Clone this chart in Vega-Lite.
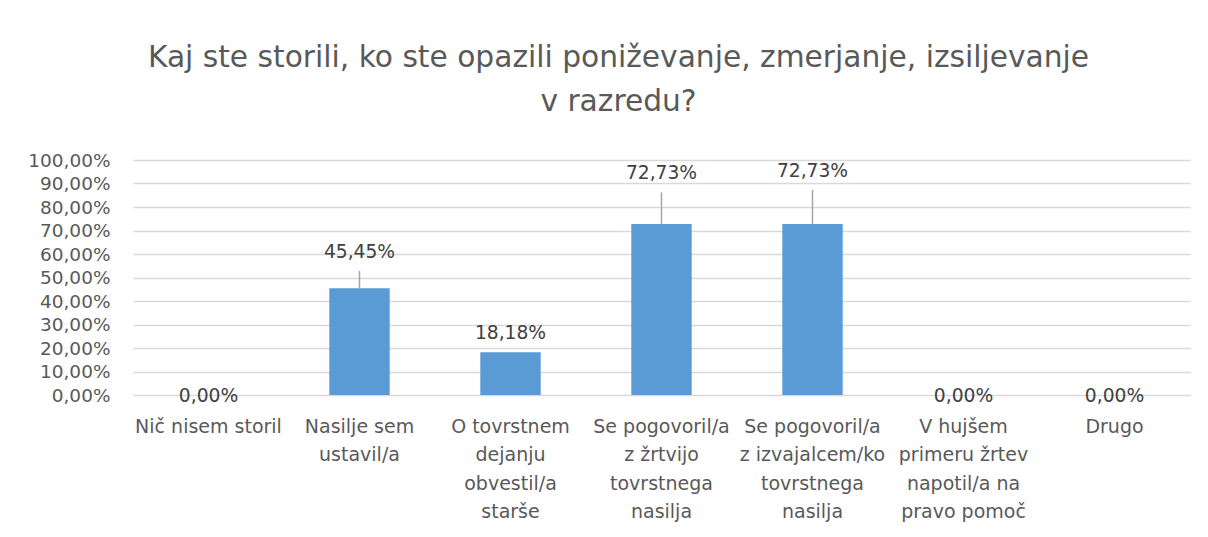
{
  "$schema": "https://vega.github.io/schema/vega-lite/v6.json",
  "width": 1057,
  "height": 235,
  "autosize": {"type": "none"},
  "padding": {"left": 133, "top": 160, "right": 18, "bottom": 142},
  "background": "white",
  "title": {
    "text": ["Kaj ste storili, ko ste opazili poniževanje, zmerjanje, izsiljevanje", "v razredu?"],
    "font": "DejaVu Sans",
    "fontSize": 29.7,
    "fontWeight": "normal",
    "color": "#595959",
    "lineHeight": 44,
    "anchor": "middle",
    "dx": -43,
    "offset": 33
  },
  "data": {
    "values": [
      {"category": "Nič nisem storil", "value": 0, "upper": 0},
      {"category": "Nasilje sem|ustavil/a", "value": 45.45, "upper": 52.8},
      {"category": "O tovrstnem|dejanju|obvestil/a|starše", "value": 18.18, "upper": 18.18},
      {"category": "Se pogovoril/a|z žrtvijo|tovrstnega|nasilja", "value": 72.73, "upper": 86.2},
      {"category": "Se pogovoril/a|z izvajalcem/ko|tovrstnega|nasilja", "value": 72.73, "upper": 87.3},
      {"category": "V hujšem|primeru žrtev|napotil/a na|pravo pomoč", "value": 0, "upper": 0},
      {"category": "Drugo", "value": 0, "upper": 0}
    ]
  },
  "transform": [
    {"calculate": "replace(format(datum.value, '.2f'), '.', ',') + '%'", "as": "label"}
  ],
  "encoding": {
    "x": {
      "field": "category",
      "type": "nominal",
      "sort": null,
      "scale": {"paddingInner": 0.6, "paddingOuter": 0.3},
      "axis": {
        "title": null,
        "labelAngle": 0,
        "labelExpr": "split(datum.label, '|')",
        "labelFont": "DejaVu Sans",
        "labelFontSize": 19,
        "labelColor": "#595959",
        "labelLineHeight": 28.5,
        "labelPadding": 22,
        "labelBaseline": "top",
        "labelLimit": 300,
        "labelOverlap": false,
        "ticks": false,
        "domain": false,
        "grid": false
      }
    }
  },
  "layer": [
    {
      "mark": {"type": "bar", "color": "#5B9BD5"},
      "encoding": {
        "y": {
          "field": "value",
          "type": "quantitative",
          "scale": {"domain": [0, 100], "nice": false},
          "axis": {
            "title": null,
            "values": [0, 10, 20, 30, 40, 50, 60, 70, 80, 90, 100],
            "labelExpr": "replace(format(datum.value, '.2f'), '.', ',') + '%'",
            "labelFont": "DejaVu Sans",
            "labelFontSize": 18.5,
            "labelColor": "#595959",
            "labelPadding": 23,
            "labelOverlap": false,
            "labelFlush": false,
            "ticks": false,
            "domain": false,
            "grid": true,
            "gridColor": "#D9D9D9",
            "gridWidth": 1.3
          }
        }
      }
    },
    {
      "transform": [{"filter": "datum.upper > datum.value"}],
      "mark": {"type": "rule", "color": "#A5A5A5", "strokeWidth": 1.5},
      "encoding": {
        "y": {
          "field": "value",
          "type": "quantitative",
          "axis": {
            "title": null,
            "values": [0, 10, 20, 30, 40, 50, 60, 70, 80, 90, 100],
            "labelExpr": "replace(format(datum.value, '.2f'), '.', ',') + '%'",
            "labelFont": "DejaVu Sans",
            "labelFontSize": 18.5,
            "labelColor": "#595959",
            "labelPadding": 23,
            "labelOverlap": false,
            "labelFlush": false,
            "ticks": false,
            "domain": false,
            "grid": true,
            "gridColor": "#D9D9D9",
            "gridWidth": 1.3
          }
        },
        "y2": {"field": "upper"}
      }
    },
    {
      "transform": [{"filter": "datum.value > 0"}],
      "mark": {"type": "text", "font": "DejaVu Sans", "fontSize": 18.7, "color": "#404040", "baseline": "middle", "dy": -19},
      "encoding": {
        "y": {
          "field": "upper",
          "type": "quantitative",
          "axis": {
            "title": null,
            "values": [0, 10, 20, 30, 40, 50, 60, 70, 80, 90, 100],
            "labelExpr": "replace(format(datum.value, '.2f'), '.', ',') + '%'",
            "labelFont": "DejaVu Sans",
            "labelFontSize": 18.5,
            "labelColor": "#595959",
            "labelPadding": 23,
            "labelOverlap": false,
            "labelFlush": false,
            "ticks": false,
            "domain": false,
            "grid": true,
            "gridColor": "#D9D9D9",
            "gridWidth": 1.3
          }
        },
        "text": {"field": "label", "type": "nominal"}
      }
    },
    {
      "transform": [{"filter": "datum.value == 0"}],
      "mark": {"type": "text", "font": "DejaVu Sans", "fontSize": 18.7, "color": "#404040", "baseline": "middle", "dy": 1},
      "encoding": {
        "y": {
          "field": "value",
          "type": "quantitative",
          "axis": {
            "title": null,
            "values": [0, 10, 20, 30, 40, 50, 60, 70, 80, 90, 100],
            "labelExpr": "replace(format(datum.value, '.2f'), '.', ',') + '%'",
            "labelFont": "DejaVu Sans",
            "labelFontSize": 18.5,
            "labelColor": "#595959",
            "labelPadding": 23,
            "labelOverlap": false,
            "labelFlush": false,
            "ticks": false,
            "domain": false,
            "grid": true,
            "gridColor": "#D9D9D9",
            "gridWidth": 1.3
          }
        },
        "text": {"field": "label", "type": "nominal"}
      }
    }
  ],
  "config": {
    "view": {"stroke": null}
  }
}
